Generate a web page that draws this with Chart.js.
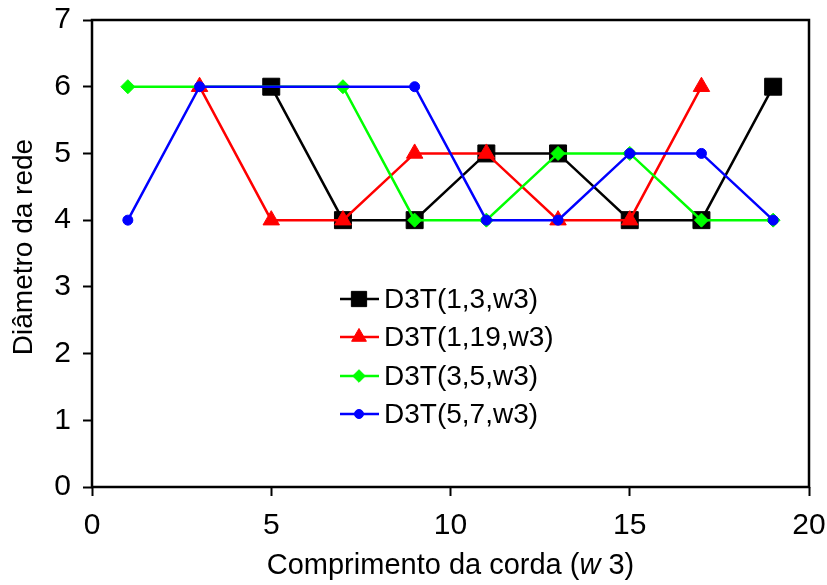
<!DOCTYPE html>
<html>
<head>
<meta charset="utf-8">
<script src="https://cdn.jsdelivr.net/npm/chart.js@4.4.1/dist/chart.umd.min.js"></script>
<style>
  body { margin: 0; background: #fff; }
  canvas { display: block; }
</style>
</head>
<body>
<canvas id="diamChart" width="827" height="585"></canvas>
<script>
// x positions (string length w3) and network diameter for each run
const xBlack = [5, 7, 9, 11, 13, 15, 17, 19];
const yBlack = [6, 4, 4, 5, 5, 4, 4, 6];
const xRed = [3, 5, 7, 9, 11, 13, 15, 17];
const yRed = [6, 4, 4, 5, 5, 4, 4, 6];
const xGreen = [1, 7, 9, 11, 13, 15, 17, 19];
const yGreen = [6, 6, 4, 4, 5, 5, 4, 4];
const xBlue = [1, 3, 9, 11, 13, 15, 17, 19];
const yBlue = [4, 6, 6, 4, 4, 5, 5, 4];

const seriesNames = ['D3T(1,3,w3)', 'D3T(1,19,w3)', 'D3T(3,5,w3)', 'D3T(5,7,w3)'];
const xTicks = [0, 5, 10, 15, 20];
const yTicks = [0, 1, 2, 3, 4, 5, 6, 7];

const FONT = 'Liberation Sans, Arial, sans-serif';

function toPoints(xs, ys) {
    return xs.map((x, i) => ({ x: x, y: ys[i] }));
}

function series(label, xs, ys, color, style, radius, order) {
    return {
        label: label,
        data: toPoints(xs, ys),
        borderColor: color,
        backgroundColor: color,
        borderWidth: 2.5,
        pointStyle: style,
        pointRadius: radius,
        pointHoverRadius: radius,
        pointBorderWidth: 1,
        pointBorderColor: color,
        tension: 0,
        order: order
    };
}

// keep the plot box exactly where the layout padding puts it
function noScalePadding(scale) {
    scale.paddingLeft = 0;
    scale.paddingRight = 0;
    scale.paddingTop = 0;
    scale.paddingBottom = 0;
}

// frame, axis titles and the inline legend
const decorations = {
    id: 'decorations',
    afterDraw(chart) {
        const ctx = chart.ctx;
        const a = chart.chartArea;
        ctx.save();
        ctx.strokeStyle = '#000';
        ctx.lineWidth = 2.5;
        ctx.strokeRect(a.left, a.top, a.right - a.left, a.bottom - a.top);

        ctx.fillStyle = '#000';
        ctx.textBaseline = 'middle';

        // y title
        ctx.save();
        ctx.translate(24, 247);
        ctx.rotate(-Math.PI / 2);
        ctx.textAlign = 'center';
        ctx.font = '28px ' + FONT;
        ctx.fillText('Diâmetro da rede', 0, 0);
        ctx.restore();

        // x title with italic w
        const parts = [
            { t: 'Comprimento da corda (', f: '29px ' + FONT },
            { t: 'w', f: 'italic 29px ' + FONT },
            { t: ' 3)', f: '29px ' + FONT }
        ];
        let total = 0;
        parts.forEach(p => { ctx.font = p.f; p.w = ctx.measureText(p.t).width; total += p.w; });
        let x = (a.left + a.right) / 2 - total / 2;
        ctx.textAlign = 'left';
        parts.forEach(p => { ctx.font = p.f; ctx.fillText(p.t, x, 566); x += p.w; });

        // legend
        const rows = [299, 337, 376, 414];
        ctx.font = '28px ' + FONT;
        chart.data.datasets.forEach((ds, r) => {
            const y = rows[r];
            ctx.strokeStyle = ds.borderColor;
            ctx.lineWidth = 2.5;
            ctx.beginPath();
            ctx.moveTo(340, y);
            ctx.lineTo(379, y);
            ctx.stroke();
            ctx.fillStyle = ds.backgroundColor;
            ctx.lineWidth = 1;
            Chart.helpers.drawPoint(ctx, { pointStyle: ds.pointStyle, radius: ds.pointRadius * 0.9, borderWidth: 1, rotation: 0 }, 359, y);
            ctx.fillStyle = '#000';
            ctx.fillText(ds.label, 384, y + 1);
        });
        ctx.restore();
    }
};

new Chart(document.getElementById('diamChart'), {
    type: 'line',
    data: {
        datasets: [
            series(seriesNames[0], xBlack, yBlack, '#000000', 'rect', 12, 4),
            series(seriesNames[1], xRed, yRed, '#ff0000', 'triangle', 9.5, 3),
            series(seriesNames[2], xGreen, yGreen, '#00ff00', 'rectRot', 7, 2),
            series(seriesNames[3], xBlue, yBlue, '#0000ff', 'circle', 5, 1)
        ]
    },
    options: {
        responsive: false,
        animation: false,
        devicePixelRatio: 1,
        layout: { padding: { left: 0, top: 20, right: 18, bottom: 0 } },
        plugins: {
            legend: { display: false },
            tooltip: { enabled: false }
        },
        scales: {
            x: {
                type: 'linear',
                min: 0,
                max: 20,
                afterFit(scale) { scale.height = 98; noScalePadding(scale); },
                afterBuildTicks(scale) { scale.ticks = xTicks.map(v => ({ value: v })); },
                border: { display: false },
                grid: { drawOnChartArea: false, drawTicks: true, tickLength: 9, tickColor: '#000', tickWidth: 2 },
                ticks: { color: '#000', padding: 12, maxRotation: 0, font: { family: FONT, size: 30 } }
            },
            y: {
                type: 'linear',
                min: 0,
                max: 7,
                afterFit(scale) { scale.width = 92; noScalePadding(scale); },
                afterBuildTicks(scale) { scale.ticks = yTicks.map(v => ({ value: v })); },
                border: { display: false },
                grid: { drawOnChartArea: false, drawTicks: true, tickLength: 9, tickColor: '#000', tickWidth: 2 },
                ticks: { color: '#000', padding: 12, font: { family: FONT, size: 30 } }
            }
        }
    },
    plugins: [decorations]
});
</script>
</body>
</html>
